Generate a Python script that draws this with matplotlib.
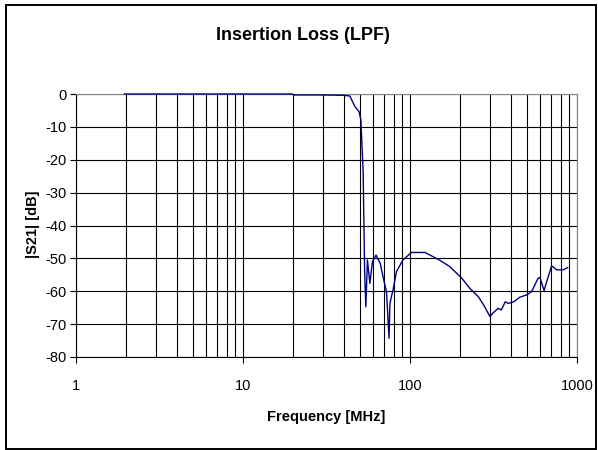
import matplotlib.pyplot as plt
from matplotlib.patches import Rectangle
from matplotlib.ticker import FixedLocator, NullFormatter

plt.rcParams['font.family'] = ['Liberation Sans', 'DejaVu Sans']
plt.rcParams['axes.unicode_minus'] = False

freq = [1.95, 5, 10, 19.5, 20.5, 30, 40, 43.6, 46.9, 49.6, 50.8, 52.4, 53.5, 54.4,
        55.6, 57.5, 59.6, 62.6, 66.3, 70, 72.3, 74.9, 75.8, 79.5, 83, 90.7,
        102, 123, 150, 173, 204, 228, 257, 280, 301, 313, 337, 352, 372, 387,
        418, 455, 500, 535, 584, 600, 635, 672, 705, 757, 825, 880]
s21 = [0, 0, 0, 0, -0.3, -0.3, -0.4, -0.6, -3.9, -5.4, -7.9, -23.6, -54, -64.7,
       -50.5, -57.6, -51, -49, -51.5, -57.1, -60.1, -74.3, -63.7, -59.1, -54, -50.5,
       -48.2, -48.2, -50.5, -52.5, -56, -59.1, -61.7, -64.7, -67.7, -66.7, -65.2,
       -65.7, -63.2, -63.7, -63.2, -61.8, -61.1, -60.1, -56.1, -55.8, -59.8, -55.6,
       -52.3, -53.5, -53.5, -52.8]

x_major = [1, 10, 100, 1000]
x_labels = ["1", "10", "100", "1000"]
y_ticks = [0, -10, -20, -30, -40, -50, -60, -70, -80]

fig = plt.figure(figsize=(5.98, 4.5), dpi=100)
ax = fig.add_axes([76 / 598, 1 - 357 / 450, 501 / 598, 263 / 450])

ax.plot(freq, s21, color='#000080', linewidth=1.0, zorder=4, clip_on=False)

ax.set_xscale('log')
ax.set_xlim(1, 1000)
ax.set_ylim(-80, 0)

minors = [m * d for d in (1, 10, 100) for m in range(2, 10)]
ax.xaxis.set_major_locator(FixedLocator(x_major))
ax.xaxis.set_minor_locator(FixedLocator(minors))
ax.xaxis.set_minor_formatter(NullFormatter())
ax.set_xticks(x_major, x_labels)
ax.set_yticks(y_ticks)

ax.grid(True, which='both', axis='x', color='black', linewidth=0.8)
ax.grid(True, which='major', axis='y', color='black', linewidth=0.8)
ax.set_axisbelow(True)

ax.tick_params(axis='x', which='major', length=4, width=0.8, pad=12, labelsize=10.5)
ax.tick_params(axis='x', which='minor', length=0)
ax.tick_params(axis='y', length=4, width=0.8, pad=3, labelsize=10.5)

for side in ('top', 'right'):
    ax.spines[side].set_color('#808080')
for side in ('left', 'bottom'):
    ax.spines[side].set_color('black')

fig.text(303 / 598, 1 - 36 / 450, "Insertion Loss (LPF)", ha='center', va='center',
         fontsize=13, fontweight='bold')
fig.text(326 / 598, 1 - 417 / 450, "Frequency [MHz]", ha='center', va='center',
         fontsize=10.5, fontweight='bold')
fig.text(33 / 598, 1 - 224 / 450, "|S21| [dB]", ha='center', va='center',
         rotation=90, fontsize=10.5, fontweight='bold')

fig.patches.append(Rectangle((6 / 598, 1 / 450), 590 / 598, 444 / 450,
                             transform=fig.transFigure, fill=False,
                             edgecolor='black', linewidth=1.4))

fig.savefig("out.png", dpi=100)
